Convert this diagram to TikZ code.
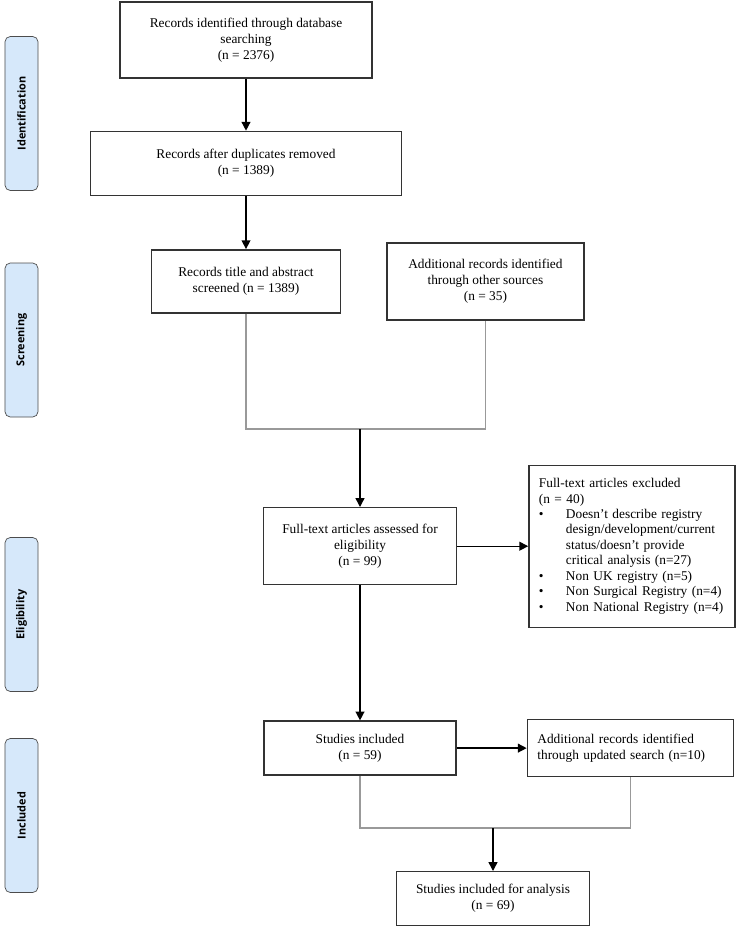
\documentclass[tikz,border=0pt]{standalone}
\usepackage{fontspec}
\setmainfont{Liberation Serif}
\newfontfamily\phasefont{Open Sans}
\usepackage{xcolor}
\usetikzlibrary{positioning,arrows.meta,calc}
\definecolor{phasefill}{HTML}{D6E8FA}
\newcommand{\bul}{\makebox[15.4pt][l]{\textbullet}}
\newcommand{\ind}{\hspace*{15.4pt}}

\begin{document}
\begin{tikzpicture}[>={Triangle[length=5pt,width=5pt]},
    box/.style={draw=black!80, line width=0.8pt, align=center, font=\fontsize{7.6}{9.1}\selectfont},
    phase/.style={draw=black!70, fill=phasefill, rounded corners=3pt, rotate=90, minimum width=3.08cm, minimum height=0.66cm, inner sep=1pt, font=\phasefont\bfseries\fontsize{6.2}{7}\selectfont},
    link/.style={draw=gray!80, line width=0.6pt}]
    \useasboundingbox (0,0) rectangle (14.72,-18.64);
    % Phases
    \node[phase] (Pid) at (0.43,-2.27) {Identification};
    \node[phase] (Psc) at (0.43,-6.80) {Screening};
    \node[phase] (Pel) at (0.43,-12.29) {Eligibility};
    \node[phase] (Pin) at (0.43,-16.31) {Included};
    % Identification and screening
    \node[box, minimum width=5.04cm, minimum height=1.52cm] (DB) at (4.92,-0.80) {Records identified through database\\searching\\(n = 2376)};
    \node[box, minimum width=6.22cm, minimum height=1.28cm, below=1.04cm of DB] (DUP) {Records after duplicates removed\\(n = 1389)};
    \node[box, minimum width=3.78cm, minimum height=1.26cm, below=1.06cm of DUP] (TA) {Records title and abstract\\screened (n = 1389)};
    \node[box, minimum width=3.94cm, minimum height=1.54cm, right=0.9cm of TA] (OS) {Additional records identified\\through other sources\\(n = 35)};
    \coordinate (J1) at (7.2,-8.58);
    % Eligibility
    \node[box, minimum width=3.86cm, minimum height=1.54cm, below=1.56cm of J1] (FT) {Full-text articles assessed for\\eligibility\\(n = 99)};
    \node[box, align=left, text width=3.72cm, inner sep=0.2cm, minimum height=3.24cm, font=\fontsize{7.6}{8.8}\selectfont, right=1.42cm of FT] (EX) {Full-text articles excluded\\
        (n = 40)\\
        \bul Doesn't describe registry\\
        \ind design/development/current\\
        \ind status/doesn't provide\\
        \ind critical analysis (n=27)\\
        \bul Non UK registry (n=5)\\
        \bul Non Surgical Registry (n=4)\\
        \bul Non National Registry (n=4)};
    % Included
    \node[box, minimum width=3.84cm, minimum height=1.08cm, below=2.7cm of FT] (SI) {Studies included\\(n = 59)};
    \node[box, align=left, text width=3.72cm, inner sep=0.2cm, minimum height=1.14cm, right=1.4cm of SI] (US) {Additional records identified\\through updated search (n=10)};
    \coordinate (J2) at (9.86,-16.56);
    \node[box, minimum width=3.86cm, minimum height=1.08cm, below=0.86cm of J2] (AN) {Studies included for analysis\\(n = 69)};
    % Arrows
    \draw[->, thick] (DB) -- (DUP);
    \draw[->, thick] (DUP) -- (TA);
    \draw[link] (TA.south) |- (J1) -| (OS.south);
    \draw[->, thick] (J1) -- (FT);
    \draw[->, thick] (FT) -- (EX);
    \draw[->, thick] (FT) -- (SI);
    \draw[->, thick] (SI) -- (US);
    \draw[link] (SI.south) |- (J2) -| (US.south);
    \draw[->, thick] (J2) -- (AN);
\end{tikzpicture}
\end{document}
